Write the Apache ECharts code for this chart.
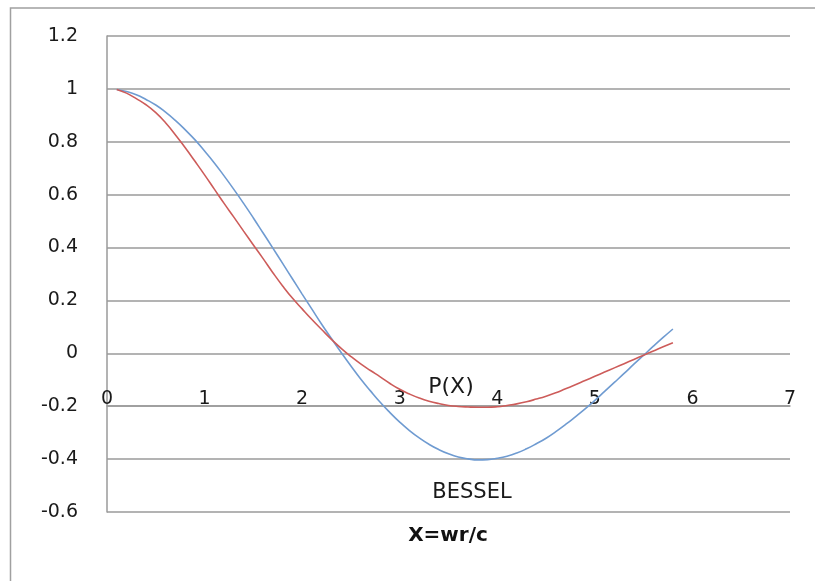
<!DOCTYPE html>
<html>
<head>
<meta charset="utf-8">
<script src="https://cdn.jsdelivr.net/npm/echarts@6/dist/echarts.min.js"></script>
<style>html,body{margin:0;padding:0;background:#fff;}#c{width:815px;height:581px;}</style>
</head>
<body>
<div id="c"></div>
<script>
var xValues = [0.1,0.2,0.3,0.4,0.5,0.6,0.7,0.8,0.9,1.0,1.1,1.2,1.3,1.4,1.5,1.6,1.7,1.8,1.9,2.0,2.1,2.2,2.3,2.4,2.5,2.6,2.7,2.8,2.9,3.0,3.1,3.2,3.3,3.4,3.5,3.6,3.7,3.8,3.9,4.0,4.1,4.2,4.3,4.4,4.5,4.6,4.7,4.8,4.9,5.0,5.1,5.2,5.3,5.4,5.5,5.6,5.7,5.8];
var besselValues = [0.998,0.990,0.978,0.960,0.939,0.912,0.881,0.846,0.808,0.765,0.720,0.671,0.620,0.567,0.512,0.455,0.398,0.340,0.282,0.224,0.167,0.110,0.056,0.003,-0.048,-0.097,-0.142,-0.185,-0.224,-0.260,-0.292,-0.320,-0.344,-0.364,-0.380,-0.392,-0.399,-0.403,-0.402,-0.397,-0.389,-0.377,-0.361,-0.342,-0.321,-0.296,-0.269,-0.240,-0.210,-0.178,-0.144,-0.110,-0.076,-0.041,-0.007,0.027,0.060,0.092];
var pxValues = [0.998,0.984,0.963,0.940,0.910,0.872,0.827,0.778,0.727,0.675,0.621,0.567,0.515,0.462,0.410,0.358,0.305,0.255,0.209,0.168,0.128,0.090,0.053,0.019,-0.012,-0.040,-0.065,-0.089,-0.114,-0.136,-0.154,-0.169,-0.181,-0.190,-0.197,-0.201,-0.203,-0.204,-0.204,-0.202,-0.197,-0.191,-0.183,-0.173,-0.162,-0.149,-0.134,-0.119,-0.103,-0.087,-0.071,-0.055,-0.039,-0.023,-0.007,0.009,0.025,0.040];
var xTickMin = 0, xTickMax = 7, xTickStep = 1;
var yTickMin = -0.6, yTickMax = 1.2, yTickStep = 0.2;
var labelBessel = 'BESSEL', labelPx = 'P(X)', xTitle = 'X=wr/c';

var FONT = 'DejaVu Sans';
var GRID = '#9a9a9a';
var chart = echarts.init(document.getElementById('c'), null, {renderer: 'canvas'});
chart.setOption({
  animation: false,
  backgroundColor: '#fff',
  grid: {left: 107, right: 25, top: 36, bottom: 69, containLabel: false},
  xAxis: {
    type: 'value', min: xTickMin, max: xTickMax, interval: xTickStep,
    position: 'bottom', offset: -106,
    axisLine: {show: true, onZero: false, lineStyle: {color: GRID, width: 1.5}},
    axisTick: {show: false},
    splitLine: {show: false},
    axisLabel: {inside: true, margin: -3, fontFamily: FONT, fontSize: 19, color: '#1a1a1a'}
  },
  yAxis: {
    type: 'value', min: yTickMin, max: yTickMax, interval: yTickStep,
    axisLine: {show: true, lineStyle: {color: GRID, width: 1.5}},
    axisTick: {show: false},
    splitLine: {show: true, lineStyle: {color: GRID, width: 1.5}},
    axisLabel: {margin: 29, fontFamily: FONT, fontSize: 19, color: '#1a1a1a',
      formatter: function (v) { return String(+v.toFixed(1)); }}
  },
  series: [
    {name: labelBessel, type: 'line', smooth: true, showSymbol: false,
      lineStyle: {color: '#6f9bd1', width: 1.6}, itemStyle: {color: '#6f9bd1'},
      data: xValues.map(function (x, i) { return [x, besselValues[i]]; })},
    {name: labelPx, type: 'line', smooth: true, showSymbol: false,
      lineStyle: {color: '#cd5c5a', width: 1.6}, itemStyle: {color: '#cd5c5a'},
      data: xValues.map(function (x, i) { return [x, pxValues[i]]; })}
  ],
  graphic: [
    {type: 'polyline', shape: {points: [[10.5, 581], [10.5, 8], [815, 8]]}, style: {stroke: '#a0a0a0', lineWidth: 1.5, fill: null}, silent: true},
    {type: 'text', x: 451, y: 387, style: {text: labelPx, font: '22px "DejaVu Sans"', fill: '#1a1a1a', textAlign: 'center', textVerticalAlign: 'middle'}},
    {type: 'text', x: 472, y: 493, style: {text: labelBessel, font: '21px "DejaVu Sans"', fill: '#1a1a1a', textAlign: 'center', textVerticalAlign: 'middle'}},
    {type: 'text', x: 448, y: 536, style: {text: xTitle, font: 'bold 20px "DejaVu Sans"', fill: '#111', textAlign: 'center', textVerticalAlign: 'middle'}}
  ]
});
</script>
</body>
</html>
